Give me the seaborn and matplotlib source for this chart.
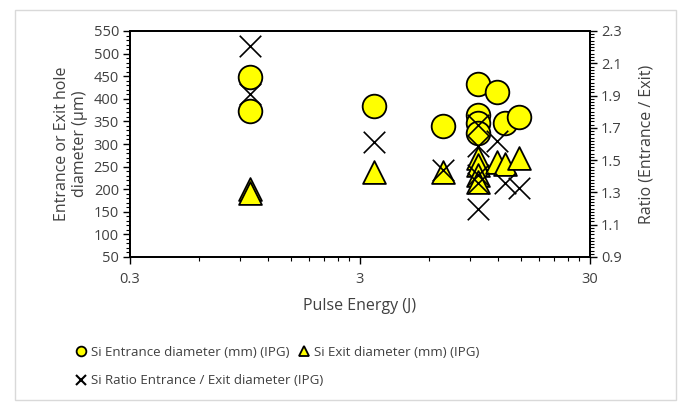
import matplotlib
matplotlib.use("Agg")
import matplotlib.pyplot as plt
import matplotlib.ticker as mticker
from matplotlib.patches import Rectangle
import seaborn as sns
import pandas as pd
import numpy as np

# Data
entrance_energy = [1.0, 1.0, 3.46, 6.9, 9.8, 9.8, 9.8, 9.8, 11.8, 12.8, 14.8]
entrance_diam = [449, 374, 385, 340, 433, 364, 346, 324, 414, 347, 360]
exit_energy = [1.0, 1.0, 3.46, 6.9, 9.8, 9.8, 9.8, 9.8, 11.8, 12.8, 14.8]
exit_diam = [200, 192, 239, 239, 268, 253, 231, 217, 261, 255, 268]
ratio_energy = [1.0, 1.0, 3.46, 6.9, 9.8, 9.8, 9.8, 9.8, 9.8, 11.8, 12.8, 14.8]
ratio_vals = [2.21, 1.91, 1.61, 1.44, 1.72, 1.59, 1.41, 1.36, 1.20, 1.62, 1.36, 1.33]

lbl_entr = "Si Entrance diameter (mm) (IPG)"
lbl_exit = "Si Exit diameter (mm) (IPG)"
lbl_ratio = "Si Ratio Entrance / Exit diameter (IPG)"

sns.set_style("white")
plt.rcParams['font.family'] = ['Open Sans', 'DejaVu Sans']
plt.rcParams['font.size'] = 10.5

TXT = "#404040"

fig = plt.figure(figsize=(6.81, 4.03), dpi=100)
ax = fig.add_axes([130/681, 1-257/403, (590-130)/681, (257-31)/403])
ax2 = ax.twinx()

df_e = pd.DataFrame({"E": entrance_energy, "D": entrance_diam})
df_x = pd.DataFrame({"E": exit_energy, "D": exit_diam})
df_r = pd.DataFrame({"E": ratio_energy, "R": ratio_vals})

sns.scatterplot(data=df_e, x="E", y="D", ax=ax, marker="o", s=290,
                color="#FFFF00", edgecolor="black", linewidth=1.3, zorder=3)
sns.scatterplot(data=df_x, x="E", y="D", ax=ax, marker="^", s=270,
                color="#FFFF00", edgecolor="black", linewidth=1.3, zorder=3)
sns.scatterplot(data=df_r, x="E", y="R", ax=ax2, marker="x", s=240,
                color="black", linewidth=1.2, zorder=3)

ax.set_xscale("log")
ax.set_xlim(0.3, 30)
ax.set_ylim(50, 550)
ax2.set_ylim(0.9, 2.3)

ax.xaxis.set_major_locator(mticker.FixedLocator([0.3, 3, 30]))
ax.xaxis.set_major_formatter(mticker.FixedFormatter(["0.3", "3", "30"]))
ax.xaxis.set_minor_locator(mticker.FixedLocator([0.3*k for k in range(2, 10)] + [3*k for k in range(2, 10)]))
ax.xaxis.set_minor_formatter(mticker.NullFormatter())

ax.yaxis.set_major_locator(mticker.MultipleLocator(50))
ax.yaxis.set_minor_locator(mticker.MultipleLocator(10))
ax2.yaxis.set_major_locator(mticker.FixedLocator([0.9, 1.1, 1.3, 1.5, 1.7, 1.9, 2.1, 2.3]))
ax2.yaxis.set_major_formatter(mticker.FormatStrFormatter("%.1f"))
ax2.yaxis.set_minor_locator(mticker.MultipleLocator(0.02))

for a in (ax, ax2):
    a.tick_params(which="major", direction="out", length=5, width=1, color="black",
                  labelcolor=TXT, labelsize=10.5, pad=3)
    a.tick_params(which="minor", direction="out", length=3, width=0.8, color="black")
    for sp in a.spines.values():
        sp.set_color("black")
        sp.set_linewidth(1.3)
ax.tick_params(axis="y", which="both", left=True)
ax.tick_params(axis="x", which="both", bottom=True)
ax.tick_params(axis="x", which="major", pad=6)
ax2.tick_params(axis="y", which="both", right=True)

ax.set_xlabel("Pulse Energy (J)", color=TXT, labelpad=8, fontsize=11.5)
ax.set_ylabel("Entrance or Exit hole\ndiameter (\u00b5m)", color=TXT, labelpad=4, fontsize=11.5)
ax2.set_ylabel("Ratio (Entrance / Exit)", color=TXT, labelpad=12, fontsize=11.5)

# Legend (three entries placed as in the reference)
h1 = plt.Line2D([], [], marker="o", color="none", markerfacecolor="#FFFF00",
                markeredgecolor="black", markersize=7, markeredgewidth=1.3)
h2 = plt.Line2D([], [], marker="^", color="none", markerfacecolor="#FFFF00",
                markeredgecolor="black", markersize=7, markeredgewidth=1.3)
h3 = plt.Line2D([], [], marker="x", color="none", markeredgecolor="black",
                markersize=7, markeredgewidth=1.5)
leg_kw = dict(loc="center left", frameon=False, handlelength=0.8, handletextpad=0.3,
              fontsize=9.6, labelcolor=TXT, borderpad=0, borderaxespad=0)
fig.legend([h1], [lbl_entr], bbox_to_anchor=(76/681, 1-352/403), **leg_kw)
fig.legend([h2], [lbl_exit], bbox_to_anchor=(299/681, 1-352/403), **leg_kw)
fig.legend([h3], [lbl_ratio], bbox_to_anchor=(76/681, 1-381/403), **leg_kw)

fig.patches.append(Rectangle((15/681, 3/403), 661/681, 1-13/403, transform=fig.transFigure,
                             fill=False, edgecolor="#D9D9D9", linewidth=1))

fig.savefig("out.png", dpi=100)
